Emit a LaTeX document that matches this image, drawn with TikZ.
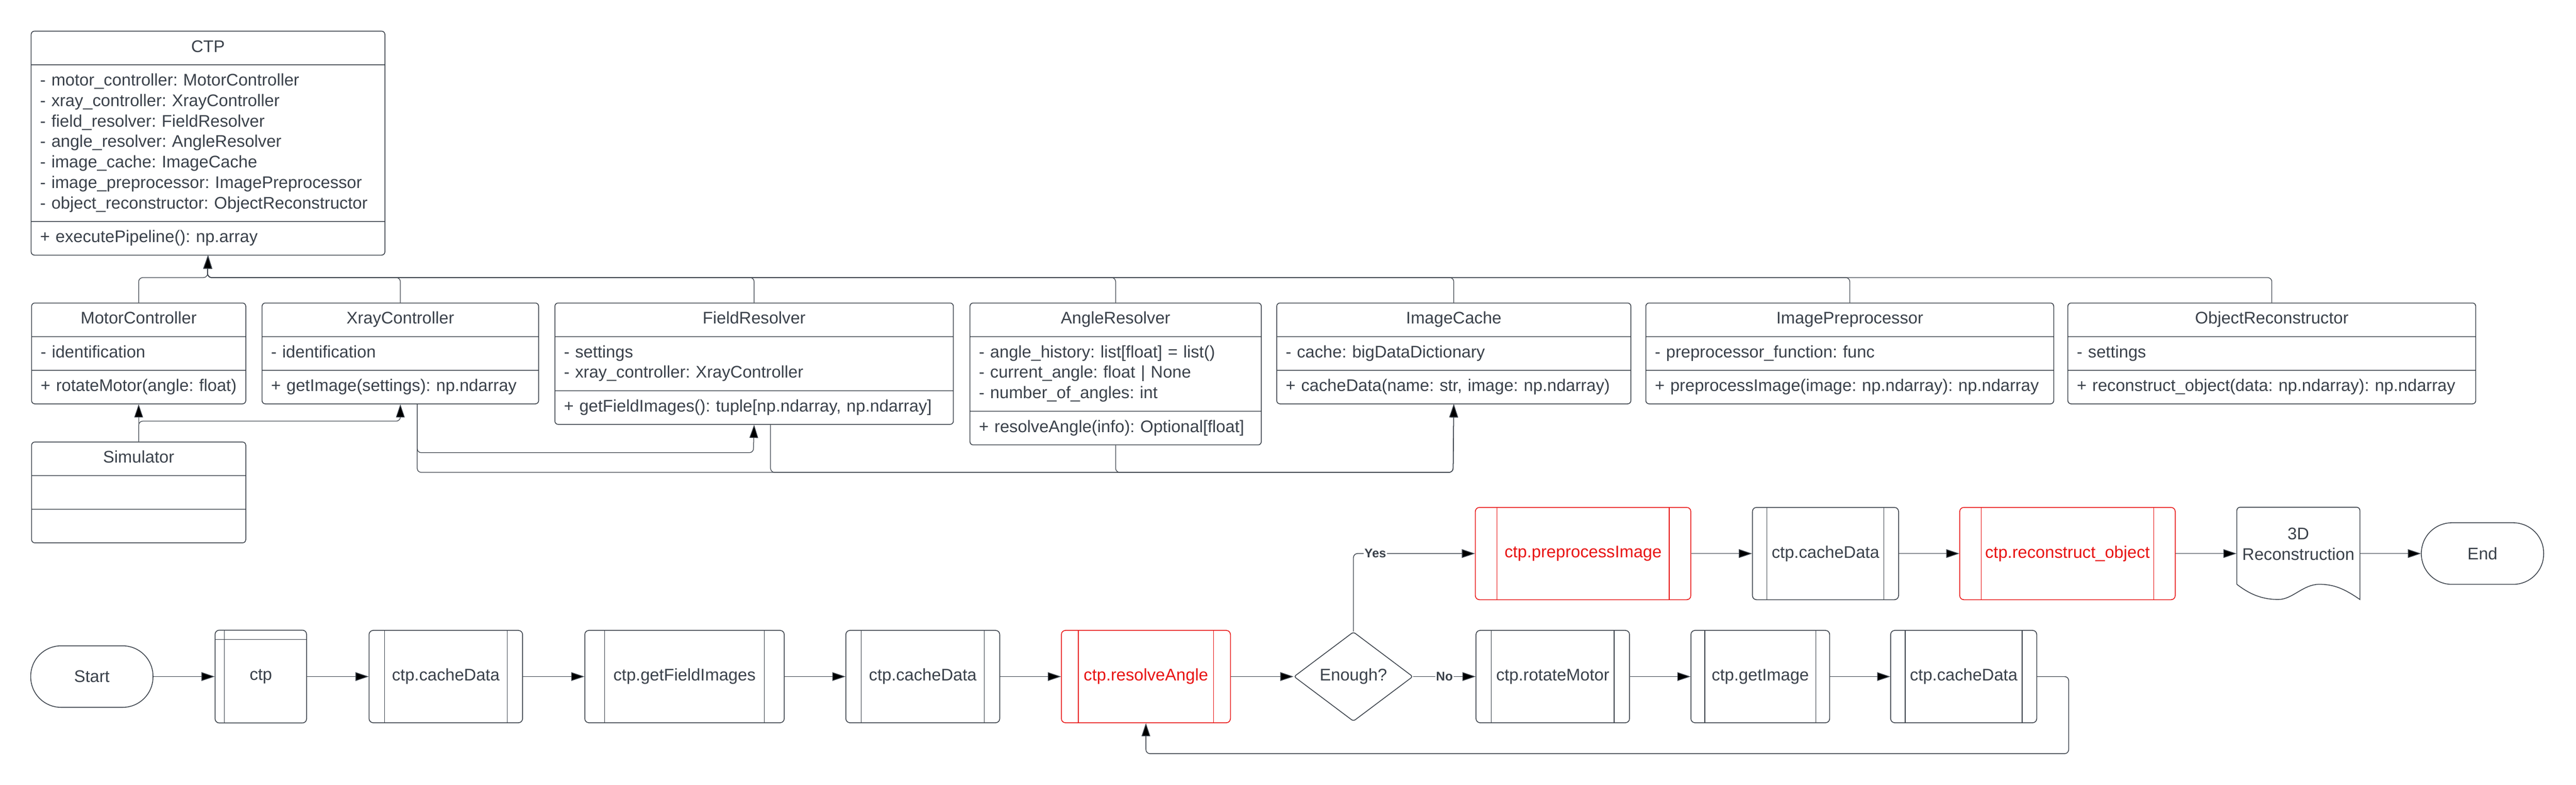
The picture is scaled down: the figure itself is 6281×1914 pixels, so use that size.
\documentclass[tikz,border=0pt]{standalone}
\usepackage{fontspec}
\setmainfont{Liberation Sans}
\usetikzlibrary{arrows.meta,shapes.multipart,shapes.geometric,calc}

\definecolor{ink}{HTML}{3A414A}
\definecolor{alert}{HTML}{E81313}

\frenchspacing
\newcommand{\mainsize}{\fontsize{11.67pt}{14.23pt}\selectfont}
\newcommand{\labelsize}{\fontsize{8.7pt}{10pt}\selectfont\bfseries}
\newcommand{\umlstrut}{\rule[-0.15cm]{0pt}{0.5cm}}
\newcommand{\row}[1]{\mbox{\umlstrut#1}}
\newcommand{\headrow}[1]{\makebox[\hsize]{\umlstrut#1}}

\begin{document}
\begin{tikzpicture}[x=0.01cm,y=-0.01cm,>={Triangle[length=0.32cm,width=0.21cm]},
    every node/.style={font=\mainsize,text=ink},
    class box/.style={draw=ink,line width=0.55pt,rounded corners=0.08cm,
        rectangle split,rectangle split parts=3,text width=#1,align=left,
        inner xsep=0.22cm,inner ysep=0.15cm,anchor=north west},
    assoc/.style={->,draw=ink,line width=0.45pt,rounded corners=0.1cm},
    flow/.style={->,draw=ink,line width=0.5pt,rounded corners=0.1cm},
    term box/.style={draw=ink,line width=0.55pt,minimum width=2.98cm,
        minimum height=1.5cm,rounded corners=0.74cm},
    proc box/.style={draw=#1,text=#1,line width=0.55pt,minimum height=2.25cm,
        rounded corners=0.1cm,path picture={
        \draw[#1,line width=0.45pt]
          ($(path picture bounding box.north west)!0.1!(path picture bounding box.north east)$) --
          ($(path picture bounding box.south west)!0.1!(path picture bounding box.south east)$)
          ($(path picture bounding box.north east)!0.1!(path picture bounding box.north west)$) --
          ($(path picture bounding box.south east)!0.1!(path picture bounding box.south west)$);}},
    proc box/.default=ink,
    store box/.style={draw=ink,line width=0.55pt,minimum width=2.23cm,
        minimum height=2.26cm,rounded corners=0.1cm,path picture={
        \draw[ink,line width=0.45pt]
          ($(path picture bounding box.north west)!0.1!(path picture bounding box.north east)$) --
          ($(path picture bounding box.south west)!0.1!(path picture bounding box.south east)$)
          ($(path picture bounding box.north west)!0.1!(path picture bounding box.south west)$) --
          ($(path picture bounding box.north east)!0.1!(path picture bounding box.south east)$);}},
    cond box/.style={diamond,draw=ink,line width=0.55pt,minimum width=2.9cm,
        minimum height=2.18cm,inner sep=0pt,aspect=1.33,rounded corners=0.05cm},
    doc box/.style={minimum width=3cm,minimum height=1.8cm,align=center,inner sep=0pt},
    edge label/.style={fill=white,font=\labelsize,inner sep=0.02cm}]

    \useasboundingbox (0,0) rectangle (6281,1914);

    % Define classes
    \node[class box=8.18cm] (ctp) at (75,75) {\headrow{CTP}
        \nodepart{two}\row{- motor\_controller: MotorController}\\
        \row{- xray\_controller: XrayController}\\
        \row{- field\_resolver: FieldResolver}\\
        \row{- angle\_resolver: AngleResolver}\\
        \row{- image\_cache: ImageCache}\\
        \row{- image\_preprocessor: ImagePreprocessor}\\
        \row{- object\_reconstructor: ObjectReconstructor}
        \nodepart{three}\row{+ executePipeline(): np.array}};
    \node[class box=4.78cm] (motorctl) at (76,738) {\headrow{MotorController}
        \nodepart{two}\row{- identification}
        \nodepart{three}\row{+ rotateMotor(angle: float)}};
    \node[class box=6.30cm] (xrayctl) at (638,738) {\headrow{XrayController}
        \nodepart{two}\row{- identification}
        \nodepart{three}\row{+ getImage(settings): np.ndarray}};
    \node[class box=9.27cm] (fieldres) at (1352,738) {\headrow{FieldResolver}
        \nodepart{two}\row{- settings}\\
        \row{- xray\_controller: XrayController}
        \nodepart{three}\row{+ getFieldImages(): tuple[np.ndarray, np.ndarray]}};
    \node[class box=6.66cm] (angleres) at (2364,738) {\headrow{AngleResolver}
        \nodepart{two}\row{- angle\_history: list[float] = list()}\\
        \row{- current\_angle: float | None}\\
        \row{- number\_of\_angles: int}
        \nodepart{three}\row{+ resolveAngle(info): Optional[float]}};
    \node[class box=8.19cm] (imgcache) at (3112,738) {\headrow{ImageCache}
        \nodepart{two}\row{- cache: bigDataDictionary}
        \nodepart{three}\row{+ cacheData(name: str, image: np.ndarray)}};
    \node[class box=9.50cm] (imgprep) at (4012,738) {\headrow{ImagePreprocessor}
        \nodepart{two}\row{- preprocessor\_function: func}
        \nodepart{three}\row{+ preprocessImage(image: np.ndarray): np.ndarray}};
    \node[class box=9.50cm] (objrec) at (5041,738) {\headrow{ObjectReconstructor}
        \nodepart{two}\row{- settings}
        \nodepart{three}\row{+ reconstruct\_object(data: np.ndarray): np.ndarray}};
    \node[class box=4.78cm] (simulator) at (76,1077) {\headrow{Simulator}
        \nodepart{two}\row{}
        \nodepart{three}\row{}};

    % Draw class links
    \coordinate (ctphub) at (506,677);
    \coordinate (fieldbus) at (1837,1104);
    \coordinate (cachebus) at (3543,1152);
    \draw[assoc] (motorctl.north) |- (ctphub) -- (ctp.south);
    \draw[assoc] (xrayctl.north) |- (ctphub) -- (ctp.south);
    \draw[assoc] (fieldres.north) |- (ctphub) -- (ctp.south);
    \draw[assoc] (angleres.north) |- (ctphub) -- (ctp.south);
    \draw[assoc] (imgcache.north) |- (ctphub) -- (ctp.south);
    \draw[assoc] (imgprep.north) |- (ctphub) -- (ctp.south);
    \draw[assoc] (objrec.north) |- (ctphub) -- (ctp.south);
    \draw[assoc] (simulator.north) -- (motorctl.south);
    \draw[assoc] (simulator.north) -- ++(0,-50) -| (xrayctl.south);
    \draw[assoc] ([xshift=0.41cm]xrayctl.south) |- (fieldbus) -- (fieldres.south);
    \draw[assoc] ([xshift=0.41cm]xrayctl.south) |- (cachebus) -- (imgcache.south);
    \draw[assoc] ([xshift=0.4cm]fieldres.south) |- (cachebus) -- (imgcache.south);
    \draw[assoc] (angleres.south) |- (cachebus) -- (imgcache.south);

    % Define steps
    \node[term box] (start) at (224,1650) {Start};
    \node[store box] (ctpstep) at (636,1650) {ctp};
    \node[proc box,minimum width=3.74cm] (cache1) at (1087,1650) {ctp.cacheData};
    \node[proc box,minimum width=4.86cm] (fields) at (1669,1650) {ctp.getFieldImages};
    \node[proc box,minimum width=3.75cm] (cache2) at (2250,1650) {ctp.cacheData};
    \node[proc box=alert,minimum width=4.12cm] (resolve) at (2794,1650) {ctp.resolveAngle};
    \node[cond box] (enough) at (3300,1650) {Enough?};
    \node[proc box,minimum width=3.74cm] (rotate) at (3786,1650) {ctp.rotateMotor};
    \node[proc box,minimum width=3.38cm] (getimg) at (4292,1650) {ctp.getImage};
    \node[proc box,minimum width=3.56cm] (cache3) at (4788,1650) {ctp.cacheData};
    \node[proc box=alert,minimum width=5.25cm] (preproc) at (3860,1350) {ctp.preprocessImage};
    \node[proc box,minimum width=3.56cm] (cache4) at (4451,1350) {ctp.cacheData};
    \node[proc box=alert,minimum width=5.25cm] (recon) at (5041,1350) {ctp.reconstruct\_object};
    \node[doc box] (recdoc) at (5604,1327) {3D\\Reconstruction};
    \node[term box] (finish) at (6053,1350) {End};

    % Document outline
    \draw[ink,line width=0.55pt] (5454,1425) -- (5454,1245) [rounded corners=0.08cm] -- (5454,1237)
        -- (5754,1237) [sharp corners] -- (5754,1462)
        .. controls (5715,1435) and (5690,1425) .. (5655,1425)
        .. controls (5615,1425) and (5590,1462) .. (5555,1462)
        .. controls (5510,1462) and (5480,1445) .. (5454,1425);

    % Draw flow
    \draw[flow] (start) -- (ctpstep);
    \draw[flow] (ctpstep) -- (cache1);
    \draw[flow] (cache1) -- (fields);
    \draw[flow] (fields) -- (cache2);
    \draw[flow] (cache2) -- (resolve);
    \draw[flow] (resolve) -- (enough);
    \draw[flow] (enough.east) -- node[edge label] {No} (rotate.west);
    \draw[flow] (enough.north) |- node[edge label,pos=0.59] {Yes} (preproc.west);
    \draw[flow] (rotate) -- (getimg);
    \draw[flow] (getimg) -- (cache3);
    \coordinate (loopcorner) at (5044,1838);
    \draw[flow] (cache3.east) -| (loopcorner) -| (resolve.south);
    \draw[flow] (preproc) -- (cache4);
    \draw[flow] (cache4) -- (recon);
    \draw[flow] (recon.east) -- (recon.east -| recdoc.west);
    \draw[flow] (recdoc.east |- finish.west) -- (finish.west);

\end{tikzpicture}
\end{document}
